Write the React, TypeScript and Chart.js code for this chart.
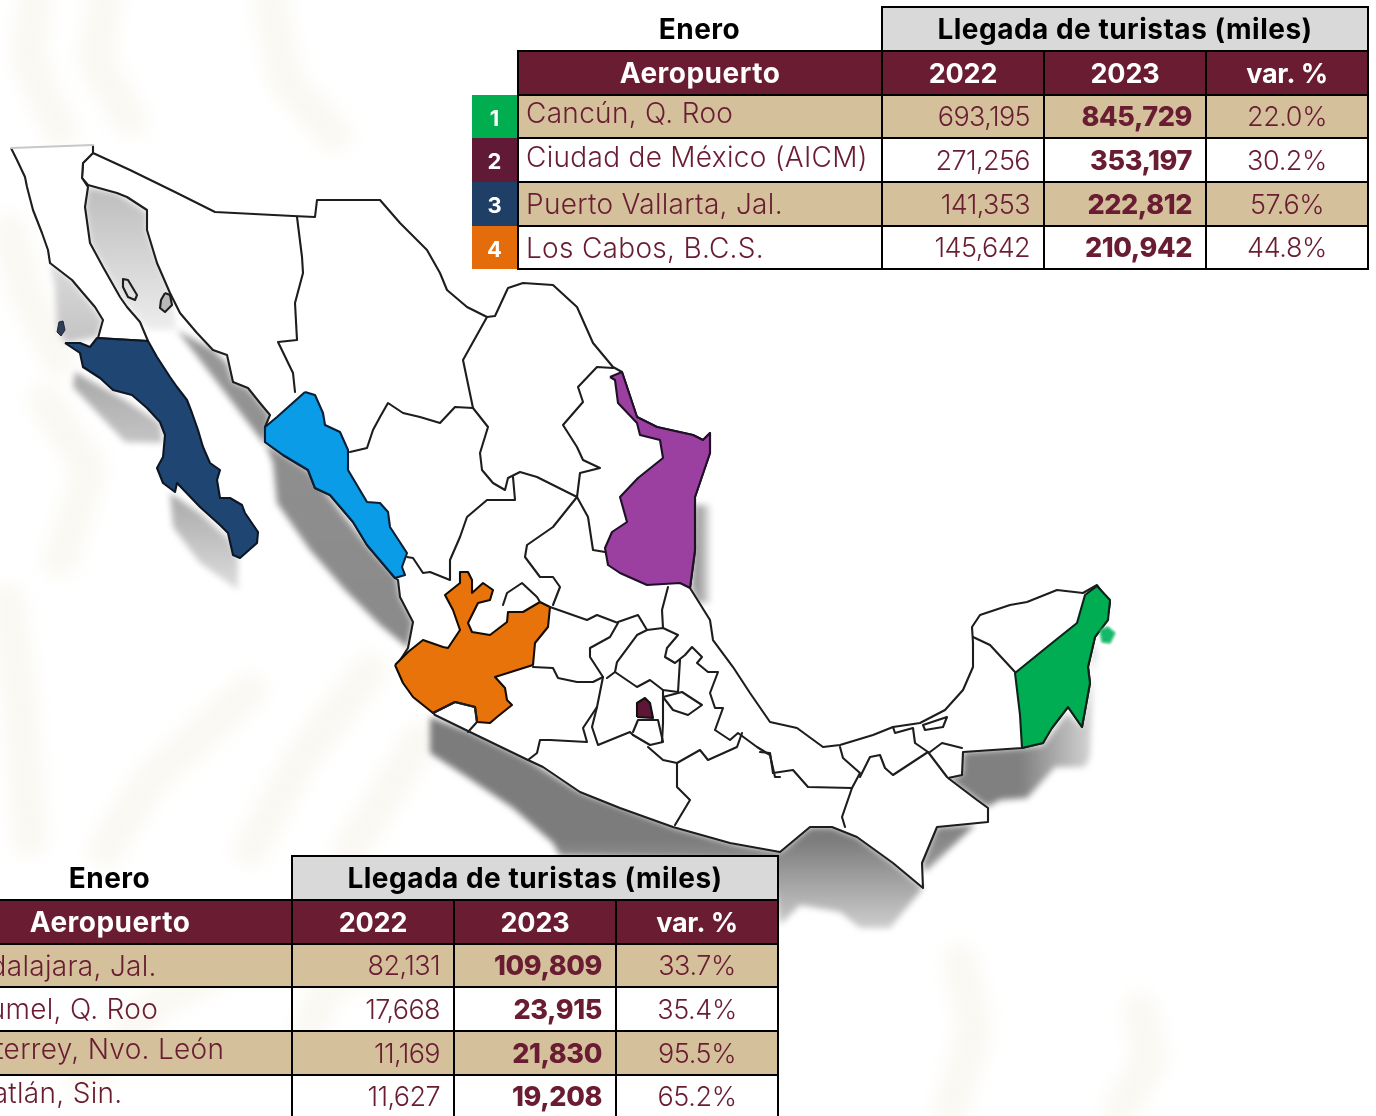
import React, { useEffect, useRef } from "react";
import { Chart, registerables } from "chart.js";

// ---------- table data ----------
const titleLeft = "Enero";
const titleRight = "Llegada de turistas (miles)";
const headAirport = "Aeropuerto";
const headYears = ["2022", "2023", "var. %"];

const ranksTop = ["1", "2", "3", "4"];
const rankColorsTop = ["#00AE4F", "#611A35", "#1F3F66", "#E56C0A"];
const airportsTop = ["Cancún, Q. Roo", "Ciudad de México (AICM)", "Puerto Vallarta, Jal.", "Los Cabos, B.C.S."];
const y2022Top = ["693,195", "271,256", "141,353", "145,642"];
const y2023Top = ["845,729", "353,197", "222,812", "210,942"];
const varTop = ["22.0%", "30.2%", "57.6%", "44.8%"];
const nameNudgeTop = [-4, -3, 0, 0];

const airportsBottom = ["Guadalajara, Jal.", "Cozumel, Q. Roo", "Monterrey, Nvo. León", "Mazatlán, Sin."];
const y2022Bottom = ["82,131", "17,668", "11,169", "11,627"];
const y2023Bottom = ["109,809", "23,915", "21,830", "19,208"];
const varBottom = ["33.7%", "35.4%", "95.5%", "65.2%"];
const nameNudgeBottom = [0, 0, -4, -4];

// ---------- map outlines (x, y on the map axes) ----------
type P = number[][];
const mainland: P = [[93,153],[130,170],[175,192],[215,212],[293,216],[315,217],[317,200],[380,200],[400,223],[427,250],[440,273],[447,290],[467,307],[487,317],[495,316],[508,288],[523,283],[553,285],[577,307],[593,343],[613,367],[622,372],[627,387],[637,417],[657,427],[693,435],[703,440],[710,433],[710,453],[695,497],[695,550],[690,588],[710,620],[713,640],[733,667],[750,693],[770,722],[797,728],[823,747],[840,745],[873,735],[893,727],[920,723],[945,710],[963,690],[973,667],[973,643],[972,627],[980,615],[1010,605],[1027,602],[1057,590],[1083,593],[1097,585],[1110,603],[1107,620],[1095,637],[1088,667],[1090,683],[1082,727],[1068,707],[1050,730],[1043,743],[1022,748],[963,752],[962,775],[948,778],[977,800],[988,808],[988,822],[937,827],[922,863],[923,888],[893,863],[857,837],[832,827],[810,827],[780,852],[730,843],[673,827],[620,808],[580,792],[543,767],[528,760],[470,732],[435,715],[397,665],[408,648],[413,622],[400,597],[398,580],[395,578],[367,545],[353,522],[330,495],[315,488],[308,470],[283,455],[265,442],[265,427],[270,415],[260,403],[248,388],[233,382],[227,355],[213,350],[197,333],[180,313],[170,293],[157,263],[147,230],[147,210],[127,197],[117,193],[88,185],[82,178],[83,163]];
const bajaNorte: P = [[11,148],[17,160],[25,177],[27,187],[33,210],[42,233],[48,250],[50,263],[72,280],[83,293],[95,307],[103,320],[98,338],[148,341],[140,322],[127,307],[120,297],[103,267],[90,243],[85,207],[88,187],[82,178],[83,163],[93,153],[93,145]];
const bajaNorteTopEdge: P = [[11,148],[93,145]];
const bajaSur: P = [[65,343],[80,353],[83,367],[100,378],[113,390],[132,395],[147,408],[160,422],[165,435],[163,457],[157,468],[163,483],[175,492],[177,483],[200,507],[220,525],[228,533],[233,555],[240,558],[257,543],[258,532],[245,513],[242,505],[230,498],[220,498],[217,480],[220,470],[210,463],[203,447],[198,430],[192,413],[187,400],[177,387],[170,377],[157,357],[148,341],[113,339],[97,338],[90,347],[80,343]];
const cedros: P = [[59,322],[63,321],[65,330],[61,336],[57,332]];
const sinaloa: P = [[305,392],[315,395],[323,413],[325,425],[340,432],[348,450],[348,470],[367,502],[380,503],[388,512],[390,527],[407,553],[402,567],[405,575],[395,578],[367,545],[353,522],[330,495],[315,488],[308,470],[283,455],[265,442],[265,427],[277,417]];
const tamaulipas: P = [[610,377],[622,372],[627,387],[637,417],[657,427],[693,435],[703,440],[710,433],[710,453],[695,497],[695,550],[690,588],[680,583],[647,585],[620,573],[608,565],[605,548],[612,532],[627,522],[620,497],[638,478],[663,458],[660,440],[640,435],[637,423],[618,403],[615,380]];
const jalisco: P = [[395,665],[408,652],[423,640],[443,647],[448,648],[460,630],[453,610],[445,595],[460,583],[460,572],[468,572],[472,580],[472,593],[483,583],[493,590],[490,600],[478,603],[468,623],[472,632],[490,635],[507,622],[508,612],[523,612],[540,602],[550,607],[548,627],[535,643],[533,665],[495,677],[505,688],[507,700],[512,705],[497,717],[490,723],[477,722],[475,707],[455,702],[433,713],[413,697],[403,683]];
const cdmx: P = [[637,717],[637,703],[645,698],[650,703],[653,718]];
const quintanaRoo: P = [[1015,673],[1052,643],[1077,623],[1085,595],[1097,586],[1110,600],[1108,620],[1095,637],[1088,667],[1090,683],[1082,727],[1068,707],[1052,728],[1043,743],[1022,748],[1020,715]];
const cozumel: P = [[1100,630],[1108,627],[1115,633],[1110,643],[1102,642]];

const borders: P[] = [
  [[297,217],[302,257],[303,273],[295,303],[297,340],[278,342],[293,373],[295,392]],
  [[487,317],[463,360],[473,408],[455,407],[440,423],[420,417],[403,413],[388,403],[380,417],[373,430],[367,448],[350,452]],
  [[613,368],[597,367],[578,387],[583,402],[563,425],[577,447],[583,460],[600,468],[580,473],[577,497],[557,487],[537,477],[520,472],[508,478],[505,490],[493,483],[482,470],[480,453],[488,427],[473,408]],
  [[513,477],[515,500],[487,500],[467,517],[460,537],[450,560],[450,580],[430,572],[423,573],[413,558],[407,557]],
  [[577,497],[553,527],[527,545],[525,557],[540,577],[553,577],[560,587],[553,605]],
  [[577,497],[588,517],[593,550],[605,552]],
  [[503,605],[507,593],[522,583],[537,597],[540,602]],
  [[433,713],[455,702],[475,707],[477,722],[468,732]],
  [[533,667],[553,668],[558,678],[577,682],[593,682],[603,677],[597,707],[583,728],[587,742],[550,740],[540,740],[537,753],[528,760]],
  [[550,607],[587,620],[597,615],[618,623],[610,637],[590,648],[590,657],[603,677]],
  [[618,622],[638,615],[647,630],[637,635],[617,662],[615,672],[607,678]],
  [[647,630],[663,628],[678,635],[667,648],[665,657],[675,663],[685,655],[692,647],[702,657],[697,663],[708,672],[718,672],[710,693],[715,708],[723,708],[715,730],[730,740],[738,733],[757,747],[770,755],[775,777],[780,777]],
  [[663,628],[662,610],[668,587]],
  [[615,672],[637,687],[650,680],[663,690],[678,692],[680,660]],
  [[663,697],[682,692],[702,705],[688,715],[673,710],[663,697]],
  [[597,707],[592,727],[598,745],[630,732],[633,735]],
  [[633,732],[638,720],[658,720],[663,742],[650,745],[633,735]],
  [[663,690],[663,723],[662,742]],
  [[648,747],[663,760],[677,763],[700,750],[708,760],[737,747],[742,733]],
  [[677,763],[677,787],[690,800],[675,825]],
  [[760,752],[770,753],[773,773],[793,770],[808,787],[852,788],[842,817],[845,827]],
  [[840,747],[843,758],[860,773],[852,788]],
  [[860,777],[870,757],[880,755],[885,768],[893,775],[928,752]],
  [[893,727],[895,733],[913,728],[915,743],[928,752],[947,777]],
  [[923,725],[947,717],[943,727],[925,730],[923,725]],
  [[930,752],[942,743],[962,748]],
  [[973,637],[990,645],[1015,672]],
  [[123,279],[128,280],[137,295],[135,300],[128,297],[123,287],[123,279]],
];
const tiburon: P = [[165,293],[170,295],[172,305],[165,312],[160,308],[161,300]];

// shadows: outline + tone pair
const shadowBajaNorte: P = [[50,263],[72,280],[103,320],[98,337],[65,343],[57,327],[55,287]];
const shadowGulf: P = [[88,187],[117,193],[147,212],[147,230],[170,293],[177,330],[148,330],[140,322],[120,297],[103,267],[90,243],[85,207]];
const shadowBajaMid: P = [[75,372],[125,400],[160,423],[163,443],[125,442],[73,387]];
const shadowBajaSouth: P = [[170,493],[200,513],[230,540],[238,560],[238,590],[200,563],[173,527]];
const shadowSonora: P = [[177,330],[213,350],[227,363],[233,382],[248,388],[270,415],[265,445]];
const shadowSinaloa: P = [[265,443],[308,470],[367,545],[397,578],[400,597],[413,622],[408,648],[380,625],[345,590],[310,550],[277,503],[273,463]];
const shadowPacific: P = [[430,717],[470,732],[528,760],[580,792],[673,827],[730,843],[780,852],[810,827],[832,827],[857,837],[893,863],[923,888],[890,928],[860,928],[840,912],[800,905],[780,925],[770,860],[560,856],[553,843],[513,808],[467,777],[430,753]];
const shadowCaribbean: P = [[963,752],[1022,748],[1043,745],[1067,713],[1082,727],[1090,683],[1097,653],[1092,640],[1092,703],[1090,757],[1085,767],[1055,767],[1027,798],[1000,800],[987,807],[948,778],[962,775]];
const shadowChiapas: P = [[937,827],[975,825],[925,872],[922,863]];
const shadowTamaulipas: P = [[695,505],[710,505],[710,603],[697,603],[692,587]];

// faint background emblem strokes
const emblemStrokes: P[] = [
  [[35,0],[28,60],[60,130]],
  [[105,0],[95,60],[130,120]],
  [[270,0],[285,80],[335,135]],
  [[10,230],[25,290],[60,360]],
  [[45,400],[90,470],[60,560]],
  [[8,600],[20,700],[30,840]],
  [[250,690],[150,780],[105,850]],
  [[370,670],[300,760],[250,850]],
  [[420,740],[370,820],[350,850]],
  [[85,1080],[160,1000],[240,960]],
  [[300,1050],[330,980],[420,960]],
  [[960,960],[975,1030],[950,1110]],
  [[1140,1010],[1150,1060],[1120,1110]],
];

// ---------- chart plumbing ----------
const blurPlugin = {
  id: "markBlur",
  beforeDatasetDraw(chart: any, args: any) {
    const b = chart.data.datasets[args.index].blur;
    chart.ctx.save();
    if (b) chart.ctx.filter = `blur(${b}px)`;
  },
  afterDatasetDraw(chart: any) {
    chart.ctx.restore();
  },
};
Chart.register(blurPlugin);
Chart.register(...registerables);

const toXY = (p: P) => p.map(([x, y]) => ({ x, y }));
const closed = (p: P) => [...p, p[0]];

function area(label: string, p: P, color: any, line = "#1d1d1d", width = 2.1, blur = 0.5, close = true) {
  return { label, data: toXY(close ? closed(p) : p), showLine: true, pointRadius: 0, fill: "shape", backgroundColor: color, borderColor: line, borderWidth: width, borderJoinStyle: "round", tension: 0, blur };
}
function stroke(label: string, p: P, color = "#1d1d1d", width = 2.1, blur = 0.5) {
  return { label, data: toXY(p), showLine: true, pointRadius: 0, fill: false, borderColor: color, borderWidth: width, borderJoinStyle: "round", borderCapStyle: "round", tension: 0, blur };
}
function shade(label: string, p: P, from: number, c0: string, to: number, c1: string, horizontal = false) {
  const color = (ctx: any) => {
    const { chart } = ctx;
    const scale = horizontal ? chart.scales.x : chart.scales.y;
    const px = (v: number) => {
      const r = scale ? scale.getPixelForValue(v) : v;
      return Number.isFinite(r) ? r : v;
    };
    const a = px(from);
    const b = px(to);
    const g = horizontal ? chart.ctx.createLinearGradient(a, 0, b, 0) : chart.ctx.createLinearGradient(0, a, 0, b);
    g.addColorStop(0, c0);
    g.addColorStop(1, c1);
    return g;
  };
  return area(label, p, color, "rgba(0,0,0,0)", 0, 3);
}

// ---------- tables ----------
const maroon = "#691C32";
const tan = "#D4C19C";
const edge = "2px solid #000";
const rowHeights = [44, 44, 43, 44, 44, 43];

function AirportTable(props: { left: number; top: number; ranks: string[]; rankColors: string[]; names: string[]; a: string[]; b: string[]; c: string[]; nudge: number[]; plain: string }) {
  const { left, top, ranks, rankColors, names, a, b, c, nudge, plain } = props;
  const base: React.CSSProperties = { padding: 0, lineHeight: 1, whiteSpace: "nowrap", overflow: "hidden" };
  const wideHead: React.CSSProperties = { fontWeight: 700, fontSize: 28, letterSpacing: 0.5, textAlign: "center" };
  const headCell: React.CSSProperties = { ...base, border: edge, background: maroon, color: "#fff", fontWeight: 700, fontSize: 27, textAlign: "center", letterSpacing: -0.2 };
  return (
    <table style={{ position: "absolute", left, top, borderCollapse: "collapse", tableLayout: "fixed", width: 46 + 364 + 162 * 3, fontFamily: "Inter, sans-serif", color: maroon }}>
      <colgroup>
        <col style={{ width: 46 }} />
        <col style={{ width: 364 }} />
        <col style={{ width: 162 }} />
        <col style={{ width: 162 }} />
        <col style={{ width: 162 }} />
      </colgroup>
      <tbody>
        <tr style={{ height: rowHeights[0] }}>
          <td style={base} />
          <td style={{ ...base, ...wideHead, color: "#000" }}>{titleLeft}</td>
          <td colSpan={3} style={{ ...base, ...wideHead, border: edge, background: "#D9D9D9", color: "#000" }}>{titleRight}</td>
        </tr>
        <tr style={{ height: rowHeights[1] }}>
          <td style={base} />
          <td style={{ ...headCell, ...wideHead }}>{headAirport}</td>
          {headYears.map((h) => <td key={h} style={headCell}>{h}</td>)}
        </tr>
        {names.map((name, i) => {
          const bg = i % 2 === 0 ? tan : plain;
          const cell: React.CSSProperties = { ...base, border: edge, background: bg, fontSize: 27, fontWeight: 300 };
          return (
            <tr key={name} style={{ height: rowHeights[i + 2] }}>
              <td style={{ ...base, background: rankColors[i] || "transparent", color: "#fff", fontWeight: 700, fontSize: 22, textAlign: "center", paddingTop: 2 }}>{ranks[i] || ""}</td>
              <td style={{ ...cell, paddingLeft: 7, fontSize: 28, letterSpacing: 0.3 }}><span style={{ position: "relative", top: nudge[i] }}>{name}</span></td>
              <td style={{ ...cell, textAlign: "right", paddingRight: 13, letterSpacing: -0.6 }}>{a[i]}</td>
              <td style={{ ...cell, textAlign: "right", paddingRight: 13, fontWeight: 800, letterSpacing: -0.4 }}>{b[i]}</td>
              <td style={{ ...cell, textAlign: "center", letterSpacing: -0.4 }}>{c[i]}</td>
            </tr>
          );
        })}
      </tbody>
    </table>
  );
}

export default function App() {
  const ref = useRef<HTMLCanvasElement>(null);
  useEffect(() => {
    const layers: any[] = [
      ...emblemStrokes.map((p, i) => stroke(`emblem${i}`, p, "#FAF8F2", 34, 9)),
      shade("shadowBajaNorte", shadowBajaNorte, 263, "#DADADA", 343, "#C4C4C4"),
      shade("shadowGulf", shadowGulf, 187, "#BDBDBD", 335, "#EFEFEF"),
      shade("shadowBajaMid", shadowBajaMid, 372, "#A8A8A8", 443, "#C4C4C4"),
      shade("shadowBajaSouth", shadowBajaSouth, 493, "#A8A8A8", 590, "#DDDDDD"),
      shade("shadowSonora", shadowSonora, 330, "#9A9A9A", 445, "#8F8F8F"),
      shade("shadowSinaloa", shadowSinaloa, 443, "#8F8F8F", 648, "#8A8A8A"),
      shade("shadowPacific", shadowPacific, 840, "#7C7C7C", 930, "#CFCFCF"),
      shade("shadowCaribbean", shadowCaribbean, 1020, "#808080", 1095, "#D8D8D8", true),
      shade("shadowChiapas", shadowChiapas, 825, "#808080", 872, "#9A9A9A"),
      shade("shadowTamaulipas", shadowTamaulipas, 695, "#8C8C8C", 712, "#EEEEEE", true),
      area("mainland", mainland, "#FFFFFF"),
      area("bajaNorte", bajaNorte, "#FFFFFF", "#1d1d1d", 2.1, 0.5, false),
      stroke("bajaNorteTopEdge", bajaNorteTopEdge, "#C8C8C8", 2, 0.7),
      area("sinaloa", sinaloa, "#0A9CE6", "#0B1E33"),
      area("bajaSur", bajaSur, "#1F4573", "#0D1622"),
      area("tamaulipas", tamaulipas, "#9B3FA0", "#1E1026"),
      area("jalisco", jalisco, "#E8730B", "#140C02"),
      area("cdmx", cdmx, "#5E1636", "#111"),
      area("quintanaRoo", quintanaRoo, "#00AD52", "#10201A"),
      area("cozumel", cozumel, "#14B868", "#14B868", 1, 0.8),
      area("cedros", cedros, "#323D56", "#1D2638", 1),
      area("tiburon", tiburon, "#B8B8B8"),
      ...borders.map((p, i) => stroke(`border${i}`, p)),
    ];
    // Chart.js paints the first dataset last, so the stack is handed over reversed
    const chart = new Chart(ref.current as HTMLCanvasElement, {
      type: "scatter",
      data: { datasets: layers.slice().reverse() },
      options: {
        animation: false,
        responsive: false,
        maintainAspectRatio: false,
        layout: { padding: 0 },
        events: [],
        plugins: { legend: { display: false }, tooltip: { enabled: false }, title: { display: false } },
        scales: {
          x: { type: "linear", min: 0, max: 1376, display: false },
          y: { type: "linear", min: 0, max: 1116, reverse: true, display: false },
        },
      },
    } as any);
    return () => chart.destroy();
  }, []);

  return (
    <div style={{ position: "fixed", left: 0, top: 0, width: 1376, height: 1116, overflow: "hidden", background: "#fff" }}>
      <canvas ref={ref} width={1376} height={1116} style={{ position: "absolute", left: 0, top: 0, width: 1376, height: 1116 }} />
      <AirportTable left={472} top={6} ranks={ranksTop} rankColors={rankColorsTop} names={airportsTop} a={y2022Top} b={y2023Top} c={varTop} nudge={nameNudgeTop} plain="#FFFFFF" />
      <AirportTable left={-118} top={855} ranks={[]} rankColors={[]} names={airportsBottom} a={y2022Bottom} b={y2023Bottom} c={varBottom} nudge={nameNudgeBottom} plain="transparent" />
    </div>
  );
}
